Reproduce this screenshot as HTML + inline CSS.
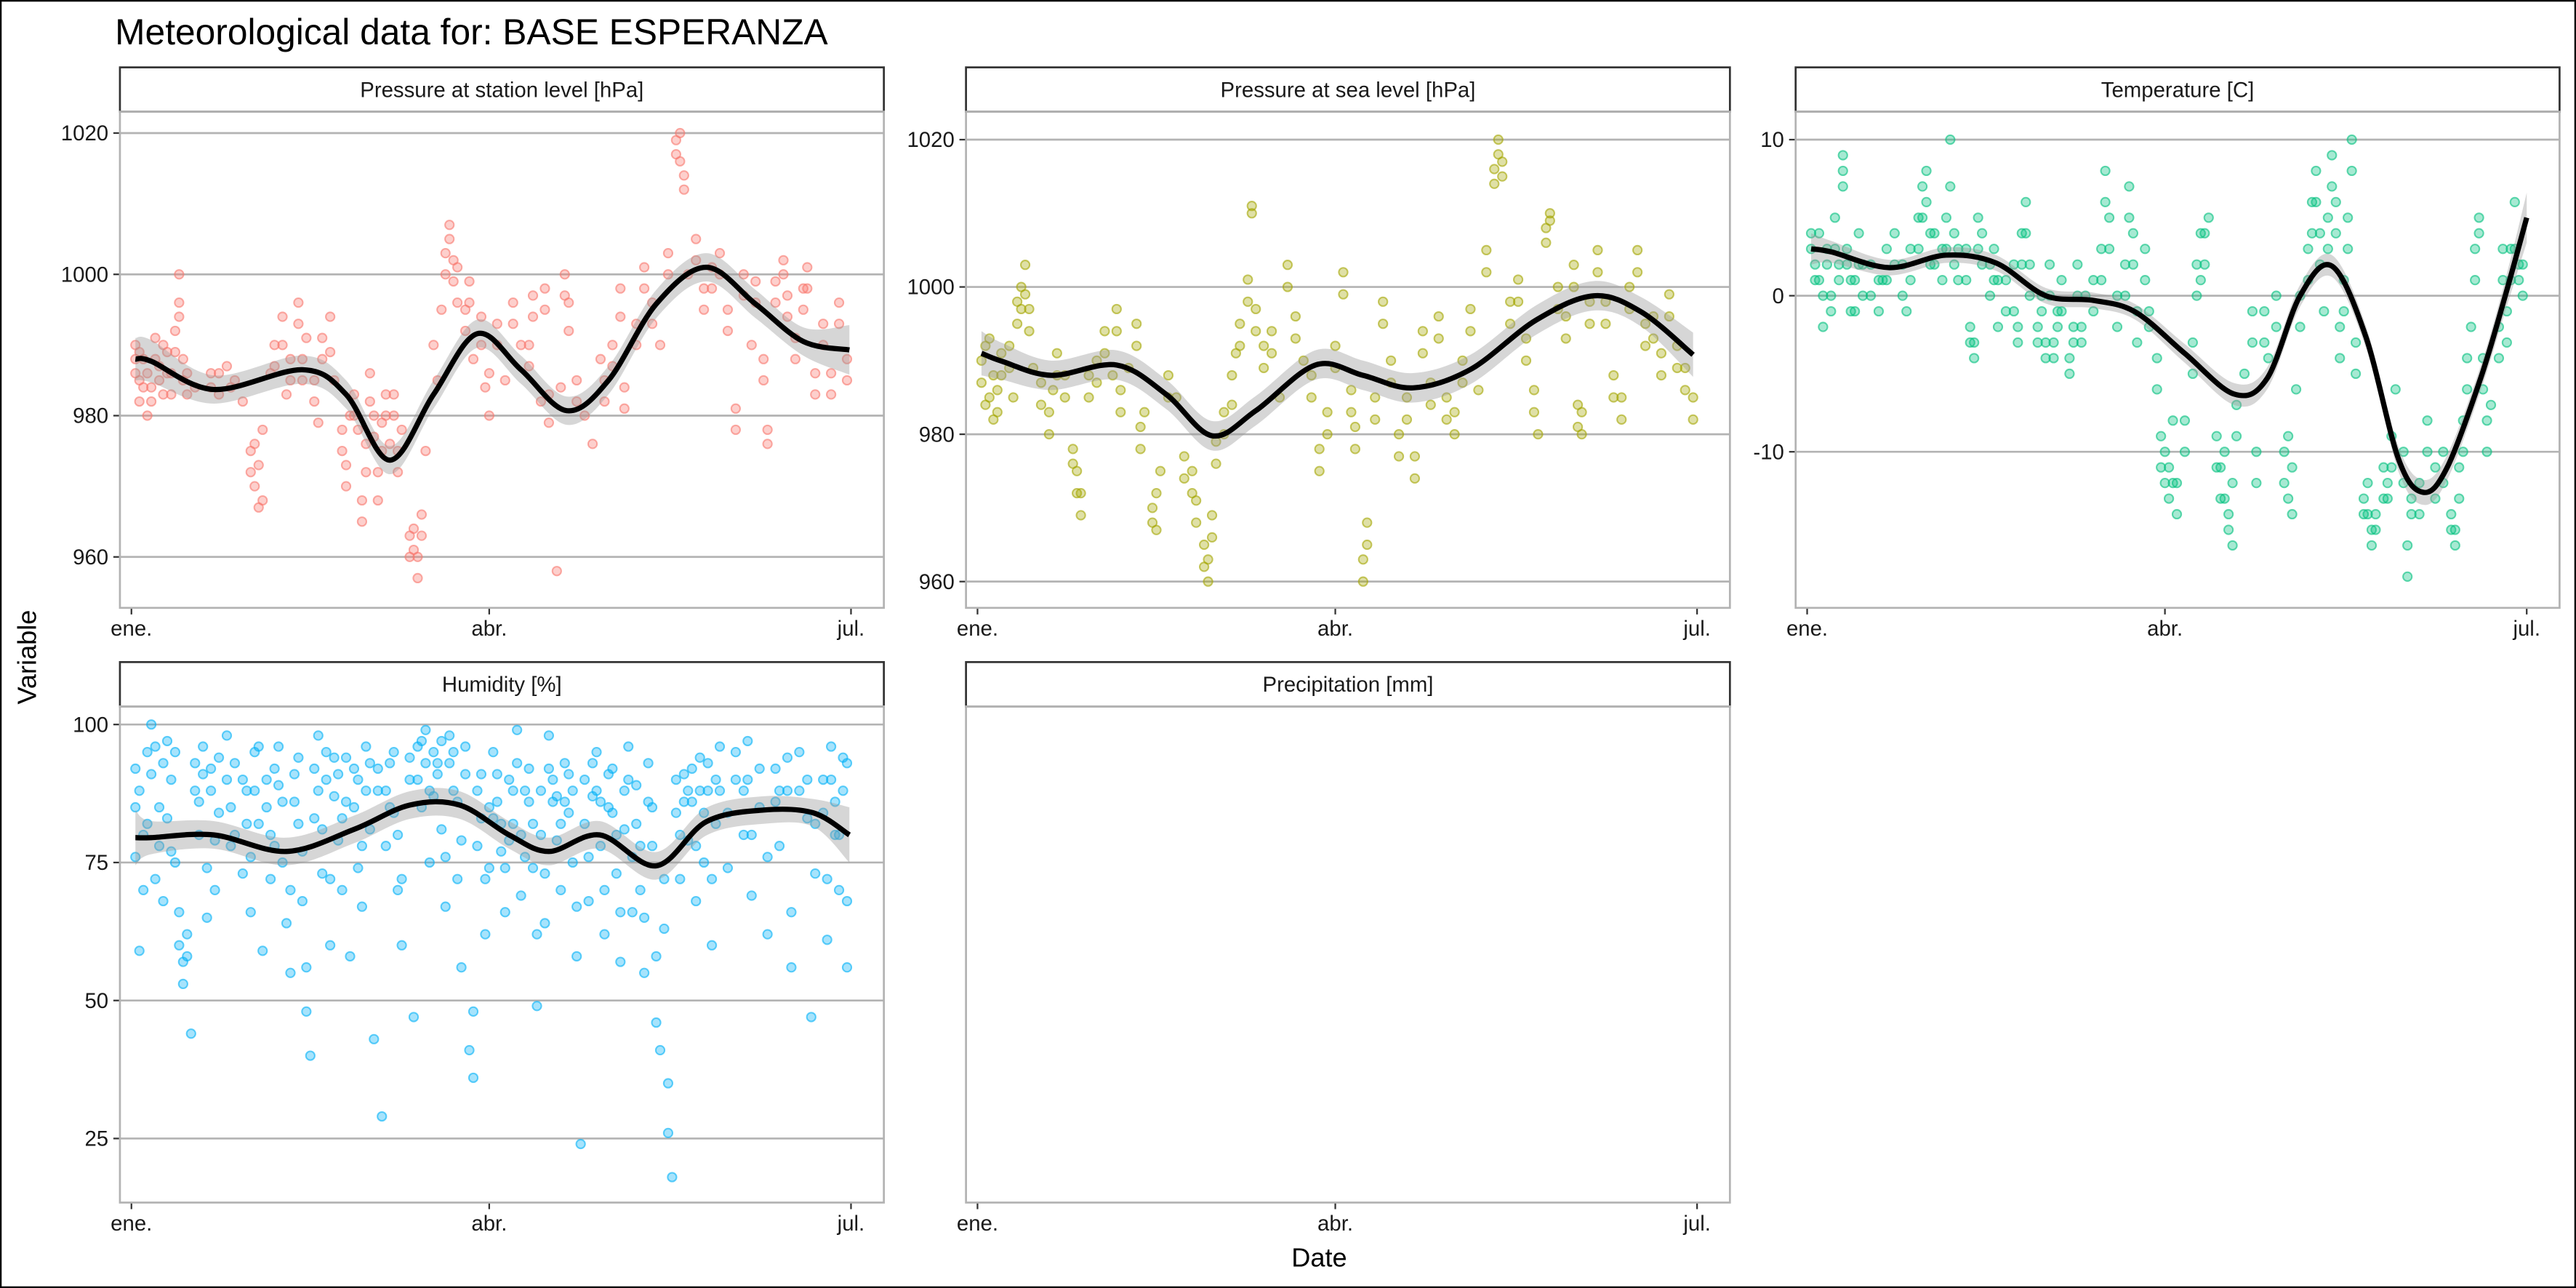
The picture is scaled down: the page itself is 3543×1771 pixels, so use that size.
<!DOCTYPE html>
<html><head><meta charset="utf-8"><style>
html,body{margin:0;padding:0;background:#fff;}
svg{display:block;font-family:"Liberation Sans",Arial,sans-serif;}
</style></head><body>
<svg id="c" width="3543" height="1771" viewBox="0 0 1568 784" preserveAspectRatio="none" xmlns="http://www.w3.org/2000/svg">
<rect x="0.5" y="0.5" width="1567" height="783" fill="#fff" stroke="#000" stroke-width="1"/>
<text x="70" y="27" font-size="22">Meteorological data for: BASE ESPERANZA</text>
<text x="803" y="771" font-size="16" text-anchor="middle">Date</text>
<text x="22" y="400" font-size="16" text-anchor="middle" transform="rotate(-90 22 400)">Variable</text>
<g id="panels"></g>
</svg>
<script>
const xTickLabels = ["ene.","abr.","jul."];
const xTickDays = [0,90,181];

const stationObs = [[1,990],[1,986],[2,982],[3,988],[4,980],[5,984],[6,991],[7,987],[8,983],[9,989],[10,986],[11,992],[12,996],[12,1000],[13,988],[14,986],[16,984],[20,986],[22,983],[24,987],[26,985],[28,982],[30,975],[31,970],[32,967],[33,978],[35,986],[36,990],[38,994],[39,983],[40,988],[42,996],[43,985],[44,991],[46,982],[47,979],[48,988],[50,994],[51,985],[53,975],[54,970],[55,980],[56,983],[57,978],[58,965],[59,972],[60,986],[61,980],[62,968],[63,975],[64,980],[65,976],[66,983],[67,972],[68,978],[70,960],[71,964],[72,957],[73,966],[74,975],[76,990],[77,985],[78,995],[79,1000],[80,1005],[81,1002],[82,996],[84,992],[85,999],[86,988],[88,994],[89,984],[90,980],[92,990],[94,985],[96,996],[98,990],[100,987],[101,994],[103,982],[104,998],[105,979],[107,958],[108,984],[109,1000],[110,992],[112,985],[114,980],[116,976],[118,988],[119,982],[121,990],[123,998],[124,984],[127,993],[129,1001],[131,996],[133,990],[135,1003],[137,1017],[138,1020],[139,1014],[140,1000],[142,1005],[144,995],[146,998],[148,1003],[150,992],[152,978],[154,1000],[156,990],[157,996],[159,985],[160,978],[162,999],[164,1002],[165,994],[167,988],[169,995],[170,1001],[172,983],[174,990],[176,986],[178,993],[180,988]];
const stationObs2 = [[1,988],[2,985],[2,989],[3,984],[4,986],[5,982],[6,988],[7,985],[8,990],[9,986],[10,983],[11,989],[12,994],[13,985],[14,983],[20,984],[22,986],[25,984],[30,972],[31,976],[32,973],[33,968],[36,987],[38,990],[40,985],[42,993],[43,988],[46,985],[48,991],[50,989],[53,978],[54,973],[56,980],[58,968],[59,976],[60,982],[61,977],[62,972],[63,979],[64,983],[66,980],[67,975],[70,963],[71,961],[72,960],[73,963],[79,1003],[80,1007],[81,999],[82,1001],[84,995],[85,996],[88,990],[90,986],[92,993],[96,993],[100,990],[101,997],[104,995],[105,983],[109,997],[110,996],[112,982],[119,985],[121,987],[123,994],[124,981],[127,990],[129,998],[131,993],[135,1000],[137,1019],[138,1016],[139,1012],[142,1002],[144,998],[146,1001],[148,1000],[150,995],[152,981],[154,997],[157,999],[159,988],[160,976],[162,996],[164,1000],[165,997],[167,991],[169,998],[170,998],[172,986],[174,993],[176,983],[178,996],[180,985]];
const stationSmooth = [[1,988],[5,987.7],[20.7,983.7],[43,986.5],[54,983],[65,973.7],[76,983],[87,991.6],[98,986.5],[109.5,980.7],[120,985],[132,995.8],[144.6,1001],[157,995.8],[169,990.5],[180.6,989.3]];
const stationSe = [3,3,2,2,2,2,2,2,2,2,2,2,2,2,2,3.5];

const seaObs = [[1,990],[2,984],[3,993],[4,982],[5,986],[6,988],[8,992],[9,985],[10,995],[11,1000],[12,1003],[13,997],[14,989],[16,984],[18,980],[19,986],[20,991],[22,988],[24,978],[25,972],[26,969],[28,985],[30,990],[32,994],[34,988],[35,997],[36,983],[38,989],[40,995],[41,978],[42,983],[44,968],[45,967],[46,975],[48,988],[50,985],[52,974],[54,972],[55,968],[57,962],[58,960],[59,966],[60,976],[62,980],[64,984],[65,991],[66,995],[68,1001],[69,1010],[70,997],[72,989],[74,994],[76,985],[78,1003],[80,996],[82,990],[84,985],[86,975],[88,980],[90,992],[92,1002],[94,986],[95,978],[97,960],[98,965],[100,982],[102,998],[104,990],[106,977],[108,985],[110,974],[112,994],[114,984],[116,996],[118,985],[120,980],[122,990],[124,997],[126,986],[128,1005],[130,1014],[131,1020],[132,1017],[134,995],[136,1001],[138,990],[140,983],[141,980],[143,1008],[144,1009],[146,1000],[148,993],[150,1003],[151,984],[152,980],[154,998],[156,1005],[158,995],[160,988],[162,985],[164,1000],[166,1005],[168,992],[170,996],[172,988],[174,999],[176,992],[178,986],[180,982]];
const seaObs2 = [[1,987],[2,992],[3,985],[4,988],[5,983],[6,991],[8,989],[10,998],[11,997],[12,999],[13,994],[16,987],[18,983],[20,988],[22,985],[24,976],[25,975],[26,972],[28,988],[30,987],[32,991],[35,994],[36,986],[40,992],[41,981],[44,970],[45,972],[48,985],[52,977],[54,975],[55,971],[57,965],[58,963],[59,969],[60,979],[62,983],[64,988],[66,992],[68,998],[69,1011],[70,994],[72,992],[74,991],[78,1000],[80,993],[84,988],[86,978],[88,983],[90,989],[92,999],[94,983],[95,981],[97,963],[98,968],[100,985],[102,995],[104,987],[106,980],[108,982],[110,977],[112,991],[114,987],[116,993],[118,982],[120,983],[122,987],[124,994],[128,1002],[130,1016],[131,1018],[132,1015],[134,998],[136,998],[138,993],[140,986],[143,1006],[144,1010],[146,997],[148,996],[150,1000],[151,981],[152,983],[154,995],[156,1002],[158,998],[160,985],[162,982],[164,997],[166,1002],[168,995],[170,993],[172,991],[174,996],[176,989],[178,989],[180,985]];
const seaSmooth = [[1,991],[6.2,989.9],[18.6,988],[35,989.4],[47.5,985.4],[59,979.8],[70,983.2],[85,989.4],[97,988],[109.5,986.3],[124,988.8],[140.5,995.5],[155,998.8],[167,996.6],[180,990.8]];
const seaSe = [3,2.5,2,2,2,2,2,2,2,2,2,2,2,2,3];

const tempObs = [[1,3],[2,1],[3,4],[4,-2],[5,2],[6,0],[7,5],[8,2],[9,7],[9,9],[10,3],[11,1],[12,-1],[13,4],[14,2],[16,0],[18,-1],[19,1],[20,3],[22,2],[24,0],[25,-1],[26,3],[28,5],[29,7],[30,8],[31,4],[32,2],[34,3],[35,5],[36,10],[37,4],[38,1],[40,3],[41,-3],[42,-4],[43,5],[44,2],[46,0],[47,3],[48,1],[50,-1],[52,2],[53,-3],[54,4],[55,6],[56,2],[58,-2],[59,0],[60,-3],[61,2],[62,-4],[63,-1],[64,1],[66,-5],[67,-3],[68,2],[69,-2],[70,0],[72,-1],[74,3],[75,8],[76,5],[78,-2],[80,2],[81,7],[82,4],[83,-3],[85,1],[86,-2],[88,-4],[89,-9],[90,-12],[91,-11],[92,-8],[93,-14],[95,-10],[97,-5],[98,0],[99,4],[100,2],[101,5],[103,-9],[104,-11],[105,-13],[106,-15],[107,-16],[108,-7],[110,-5],[112,-3],[113,-10],[115,-1],[116,-4],[118,0],[120,-10],[121,-13],[122,-11],[123,-6],[124,-2],[126,3],[127,6],[128,8],[129,2],[130,-1],[131,5],[132,9],[133,4],[134,-4],[135,-1],[136,3],[137,10],[138,-5],[140,-13],[141,-14],[142,-16],[143,-15],[145,-11],[146,-13],[147,-9],[148,-6],[150,-10],[151,-18],[152,-14],[154,-12],[156,-8],[158,-11],[160,-10],[162,-15],[163,-16],[164,-13],[165,-8],[166,-4],[167,-2],[168,3],[169,5],[170,-6],[171,-10],[172,-7],[174,-2],[175,1],[176,-3],[177,3],[178,6],[179,1],[180,2]];
const tempObs2 = [[1,4],[2,2],[3,1],[4,0],[5,3],[6,-1],[7,3],[8,1],[9,8],[10,2],[11,-1],[12,1],[13,2],[14,0],[16,2],[18,1],[20,1],[22,4],[24,2],[26,1],[28,3],[29,5],[30,6],[31,2],[32,4],[34,1],[35,3],[36,7],[37,2],[38,3],[40,1],[41,-2],[42,-3],[43,3],[44,4],[46,2],[47,1],[48,-2],[50,1],[52,-1],[53,-2],[54,2],[55,4],[56,0],[58,-3],[59,-1],[60,-4],[61,0],[62,-3],[63,-2],[64,-1],[66,-4],[67,-2],[68,0],[69,-3],[72,1],[74,1],[75,6],[76,3],[78,0],[80,0],[81,5],[82,2],[83,-1],[85,3],[86,-1],[88,-6],[89,-11],[90,-10],[91,-13],[92,-12],[93,-12],[95,-8],[97,-3],[98,2],[99,1],[100,4],[103,-11],[104,-13],[105,-10],[106,-14],[107,-12],[108,-9],[112,-1],[113,-12],[115,-3],[118,-2],[120,-12],[121,-9],[122,-14],[124,0],[126,1],[127,4],[128,6],[129,4],[131,3],[132,7],[133,6],[134,-2],[135,1],[136,5],[137,8],[138,-3],[140,-14],[141,-12],[142,-15],[143,-14],[145,-13],[146,-12],[147,-11],[150,-12],[151,-16],[152,-13],[154,-14],[156,-10],[158,-13],[160,-12],[162,-14],[163,-15],[164,-11],[165,-10],[166,-6],[168,1],[169,4],[170,-4],[171,-8],[174,-4],[175,3],[176,-1],[177,1],[178,3],[179,2],[180,0]];
const tempSmooth = [[1,3],[6.2,2.8],[20.7,1.8],[35,2.6],[47.5,2.1],[60,0],[72,-0.3],[82.6,-1.05],[95,-3.7],[107.4,-6.3],[115.7,-5.3],[124,0],[132,1.9],[140.5,-2.6],[148.8,-10.5],[155,-12.6],[161,-11],[169.4,-5.3],[175.6,0],[181,5]];
const tempSe = [1,0.7,0.5,0.5,0.5,0.5,0.5,0.5,0.6,0.7,0.7,0.7,0.7,0.7,0.8,0.8,0.8,0.8,1,1.6];

const humObs = [[1,76],[1,92],[2,59],[3,80],[4,95],[5,100],[6,72],[7,85],[8,68],[9,97],[10,90],[11,75],[12,60],[13,53],[14,58],[15,44],[16,88],[17,80],[18,96],[19,65],[20,92],[21,70],[22,84],[24,98],[25,78],[26,93],[28,73],[29,88],[30,66],[31,95],[32,82],[33,59],[34,90],[35,72],[36,78],[37,96],[38,86],[39,64],[40,55],[41,91],[42,82],[43,68],[44,48],[45,40],[46,83],[47,98],[48,73],[49,90],[50,60],[51,94],[52,79],[53,70],[54,86],[55,58],[56,92],[57,74],[58,67],[59,96],[60,81],[61,43],[62,88],[63,29],[64,78],[65,93],[66,84],[67,70],[68,60],[70,90],[71,47],[72,96],[73,85],[74,99],[75,75],[76,87],[77,93],[78,81],[79,67],[80,98],[81,88],[82,72],[83,56],[84,91],[85,41],[86,36],[87,78],[88,83],[89,62],[90,74],[91,95],[92,86],[93,77],[94,66],[95,90],[96,82],[97,99],[98,69],[99,88],[100,92],[101,74],[102,49],[103,80],[104,64],[105,98],[106,86],[107,79],[108,70],[109,93],[110,84],[111,75],[112,58],[113,24],[114,90],[115,68],[116,87],[117,95],[118,78],[119,62],[120,85],[121,92],[122,73],[123,57],[124,81],[125,96],[126,66],[127,89],[128,70],[129,55],[130,93],[131,78],[132,46],[133,41],[134,63],[135,26],[136,18],[137,84],[138,72],[139,91],[140,79],[141,86],[142,68],[143,94],[144,75],[145,88],[146,60],[147,82],[148,96],[150,74],[152,90],[154,80],[155,97],[156,69],[158,85],[160,62],[162,92],[163,78],[165,88],[166,56],[168,95],[170,83],[171,47],[172,73],[174,90],[175,61],[176,96],[177,80],[178,70],[179,88],[180,56],[180,93]];
const humObs2 = [[1,85],[2,88],[3,70],[4,82],[5,91],[6,96],[7,78],[8,93],[9,83],[10,77],[11,95],[12,66],[13,57],[14,62],[16,93],[17,86],[18,91],[19,74],[20,88],[21,79],[22,94],[24,90],[25,85],[26,80],[28,90],[29,82],[30,76],[31,88],[32,96],[34,85],[35,80],[36,92],[37,89],[38,75],[40,70],[41,86],[42,94],[43,77],[44,56],[46,92],[47,88],[48,81],[49,95],[50,72],[51,87],[52,91],[53,83],[54,94],[56,85],[57,90],[58,78],[59,88],[60,93],[62,92],[64,88],[65,85],[66,95],[67,80],[68,72],[70,94],[72,90],[73,97],[74,93],[75,88],[76,95],[77,91],[78,97],[79,76],[80,93],[81,95],[82,86],[83,79],[84,96],[86,48],[87,88],[88,91],[89,72],[90,85],[91,83],[92,91],[93,82],[94,74],[95,79],[96,88],[97,93],[98,80],[99,76],[100,86],[101,82],[102,62],[103,88],[104,73],[105,92],[106,90],[107,87],[108,82],[109,86],[110,91],[111,88],[112,67],[114,82],[115,76],[116,93],[117,88],[118,86],[119,70],[120,91],[121,84],[122,80],[123,66],[124,88],[125,90],[126,76],[127,82],[128,78],[129,65],[130,86],[131,85],[132,58],[134,72],[135,35],[137,90],[138,80],[139,86],[140,88],[141,92],[142,78],[143,88],[144,84],[145,93],[146,72],[147,90],[148,88],[150,84],[152,95],[154,88],[155,90],[156,80],[158,92],[160,76],[162,86],[163,88],[165,94],[166,66],[168,88],[170,90],[172,82],[174,84],[175,72],[176,90],[177,86],[178,80],[179,94],[180,68]];
const humSmooth = [[1,79.5],[5,79.5],[20.7,80],[39,77],[56,81],[70,85.4],[82.6,85.4],[95,80],[105,77],[117.8,80],[132,74.4],[144.6,82.4],[159,84.5],[171.5,84],[180.6,80]];
const humSe = [5,3,2.5,2.5,2.5,2.5,2.5,2.5,2.5,2.5,2.5,2.5,2.5,2.5,5];

const stationTicks = [960,980,1000,1020];
const seaTicks = [960,980,1000,1020];
const tempTicks = [-10,0,10];
const humTicks = [25,50,75,100];

const NS="http://www.w3.org/2000/svg";
const root=document.getElementById('panels');
function mk(tag,attrs,parent){const e=document.createElementNS(NS,tag);for(const k in attrs)e.setAttribute(k,attrs[k]);(parent||root).appendChild(e);return e;}
function linScale(v0,p0,v1,p1){return v=>p0+(v-v0)*(p1-p0)/(v1-v0);}
function spline(pts){let d="M"+pts[0][0]+","+pts[0][1];for(let i=0;i<pts.length-1;i++){const p0=pts[Math.max(0,i-1)],p1=pts[i],p2=pts[i+1],p3=pts[Math.min(pts.length-1,i+2)];const c1=[p1[0]+(p2[0]-p0[0])/6,p1[1]+(p2[1]-p0[1])/6],c2=[p2[0]-(p3[0]-p1[0])/6,p2[1]-(p3[1]-p1[1])/6];d+=" C"+c1[0]+","+c1[1]+" "+c2[0]+","+c2[1]+" "+p2[0]+","+p2[1];}return d;}

const panels=[
 {name:"station-pressure",title:"Pressure at station level [hPa]",x0:73,x1:538,sy:41,y0:68,y1:370,ene:80,y:linScale(1020,81,960,339),ticks:stationTicks,color:"#F8766D",obs:stationObs.concat(stationObs2),sm:stationSmooth,se:stationSe},
 {name:"sea-pressure",title:"Pressure at sea level [hPa]",x0:588,x1:1053,sy:41,y0:68,y1:370,ene:595,y:linScale(1020,85,960,354),ticks:seaTicks,color:"#A3A500",obs:seaObs.concat(seaObs2),sm:seaSmooth,se:seaSe},
 {name:"temperature",title:"Temperature [C]",x0:1093,x1:1558,sy:41,y0:68,y1:370,ene:1100,y:linScale(10,85,0,180),ticks:tempTicks,color:"#00BF7D",obs:tempObs.concat(tempObs2),sm:tempSmooth,se:tempSe},
 {name:"humidity",title:"Humidity [%]",x0:73,x1:538,sy:403,y0:430,y1:732,ene:80,y:linScale(100,441,25,693),ticks:humTicks,color:"#00B0F6",obs:humObs.concat(humObs2),sm:humSmooth,se:humSe},
 {name:"precipitation",title:"Precipitation [mm]",x0:588,x1:1053,sy:403,y0:430,y1:732,ene:595,y:null,ticks:[],color:"#E76BF3",obs:[],sm:[],se:[]}
];
panels.forEach(p=>{
 const g=mk('g',{});
 
 
 const x=linScale(0,p.ene,181,p.ene+438);
 const strip=mk('rect',{x:p.x0,y:p.sy,width:p.x1-p.x0,height:p.y0-p.sy,fill:"#fff",stroke:"#333","stroke-width":1.2},g);
 
 
 const st=mk('text',{x:(p.x0+p.x1)/2,y:p.sy+18,"font-size":13,"text-anchor":"middle",fill:"#1a1a1a"},g);st.textContent=p.title;
 
 
 p.ticks.forEach(t=>{const yy=p.y(t);
  const gl=mk('line',{x1:p.x0,x2:p.x1,y1:yy,y2:yy,stroke:"#b3b3b3","stroke-width":1.2},g);
  
  
  mk('line',{x1:p.x0-4,x2:p.x0,y1:yy,y2:yy,stroke:"#333","stroke-width":1},g);
  const tl=mk('text',{x:p.x0-7,y:yy+4.5,"font-size":13,"text-anchor":"end",fill:"#1a1a1a"},g);tl.textContent=t;
  
  
 });
 xTickDays.forEach((d,i)=>{const xx=x(d);
  mk('line',{x1:xx,x2:xx,y1:p.y1,y2:p.y1+4,stroke:"#333","stroke-width":1},g);
  const tl=mk('text',{x:xx,y:p.y1+17,"font-size":13,"text-anchor":"middle",fill:"#1a1a1a"},g);tl.textContent=xTickLabels[i];
  
  
 });
 p.obs.forEach(o=>{
  const c=mk('circle',{cx:x(o[0]),cy:p.y(o[1]),r:2.7,fill:p.color,"fill-opacity":0.35,stroke:p.color,"stroke-opacity":0.6,"stroke-width":0.9},g);
  
  
 });
 if(p.sm.length){
  const up=p.sm.map((s,i)=>[x(s[0]),p.y(s[1]+p.se[i])]);
  const lo=p.sm.map((s,i)=>[x(s[0]),p.y(s[1]-p.se[i])]).reverse();
  const rib=mk('path',{d:spline(up)+" L"+lo[0][0]+","+lo[0][1]+spline(lo).replace(/^M[^ ]+/,"")+" Z",fill:"#999","fill-opacity":0.4,stroke:"none"},g);
  
  
  const ln=mk('path',{d:spline(p.sm.map(s=>[x(s[0]),p.y(s[1])])),fill:"none",stroke:"#000","stroke-width":3.2},g);
  
  
 }
 const fr=mk('rect',{x:p.x0,y:p.y0,width:p.x1-p.x0,height:p.y1-p.y0,fill:"none",stroke:"#b3b3b3","stroke-width":1.2},g);
 
 
});
</script>
</body></html>
